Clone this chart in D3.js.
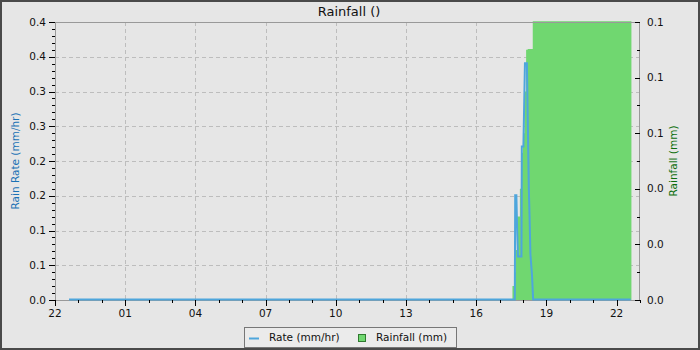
<!DOCTYPE html>
<html><head><meta charset="utf-8">
<script src="https://cdn.jsdelivr.net/npm/d3@7"></script>
<style>body{margin:0;background:#fff}svg{display:block;font-family:"DejaVu Sans",sans-serif}</style>
</head><body><svg id="c" width="700" height="350"></svg>
<script>
// ---- data ----
const chartTitle = "Rainfall ()";
const leftAxisTitle = "Rain Rate (mm/hr)";
const rightAxisTitle = "Rainfall (mm)";
const seriesNames = ["Rate (mm/hr)", "Rainfall (mm)"];
const xTickLabels = ["22","01","04","07","10","13","16","19","22"];
const leftTickValues = [0,0.05,0.10,0.15,0.20,0.25,0.30,0.35,0.40];
const leftTickLabels = ["0.0","0.1","0.1","0.2","0.2","0.3","0.3","0.4","0.4"];
const rightTickValues = [0,0.02,0.04,0.06,0.08,0.10];
const rightTickLabels = ["0.0","0.0","0.0","0.1","0.1","0.1"];
const xDomain = ["2024-01-01 22:00","2024-01-02 23:00"];

const rateTimes = ["2024-01-01 22:36","2024-01-02 17:39","2024-01-02 17:40","2024-01-02 17:43","2024-01-02 17:45","2024-01-02 17:47","2024-01-02 17:56","2024-01-02 17:57","2024-01-02 18:01","2024-01-02 18:05","2024-01-02 18:10","2024-01-02 18:15","2024-01-02 18:17","2024-01-02 18:19","2024-01-02 18:23","2024-01-02 18:26","2024-01-02 22:36"];
const rateValues = [0,0,0.15,0.15,0.10,0.062,0.062,0.22,0.22,0.34,0.34,0.158,0.115,0.065,0.036,0,0];

const rainTimes = ["2024-01-01 22:36","2024-01-02 17:33","2024-01-02 17:37","2024-01-02 17:41","2024-01-02 17:45","2024-01-02 17:52","2024-01-02 17:55","2024-01-02 18:00","2024-01-02 18:04","2024-01-02 18:08","2024-01-02 18:12","2024-01-02 18:25","2024-01-02 22:38"];
const rainValues = [0,0.005,0.010,0.018,0.030,0.040,0.053,0.060,0.075,0.090,0.0903,0.1003,0.1003];

// ---- drawing ----
const parse = d3.timeParse("%Y-%m-%d %H:%M");
const svg = d3.select("#c");
const L = 55, R = 640, T = 22, B = 300;
const x = d3.scaleTime().domain(xDomain.map(parse)).range([L, R]);
const yL = d3.scaleLinear().domain([0, 0.4]).range([B, T]);
const yR = d3.scaleLinear().domain([0, 0.1]).range([B, T]);

svg.append("rect").attr("x",1).attr("y",1).attr("width",698).attr("height",348)
  .attr("fill","#e6e6e6").attr("stroke","#4a4a4a").attr("stroke-width",2);

const start = x.domain()[0], end = x.domain()[1];
const majorX = xTickLabels.map((d,i)=> d3.timeHour.offset(start, i*3));
const minorX = d3.timeHour.range(start, d3.timeMinute.offset(end,1));

// grid
const grid = svg.append("g").attr("stroke","#bdbdbd").attr("stroke-dasharray","4,3").attr("stroke-width",1);
majorX.slice(1).forEach(t=>{
  grid.append("line").attr("x1",Math.round(x(t))+0.5).attr("x2",Math.round(x(t))+0.5).attr("y1",T).attr("y2",B);
});
leftTickValues.slice(1,-1).forEach(v=>{
  grid.append("line").attr("x1",L).attr("x2",R).attr("y1",Math.round(yL(v))+0.5).attr("y2",Math.round(yL(v))+0.5);
});

// rainfall area
const rain = rainTimes.map((t,i)=>({t:parse(t), v:rainValues[i]}));
svg.append("path").datum(rain)
  .attr("d", d3.area().curve(d3.curveStepAfter).x(d=>x(d.t)).y0(yR(0)).y1(d=>yR(d.v)))
  .attr("fill","#70d770");

// frame
svg.append("rect").attr("x",L+0.5).attr("y",T+0.5).attr("width",R-L-1).attr("height",B-T)
  .attr("fill","none").attr("stroke","#999").attr("stroke-width",1);

// rate line
const rate = rateTimes.map((t,i)=>({t:parse(t), v:rateValues[i]}));
svg.append("path").datum(rate)
  .attr("d", d3.line().x(d=>x(d.t)).y(d=>yL(d.v)-0.5))
  .attr("fill","none").attr("stroke","#4ea6dc").attr("stroke-width",2);

// left axis
const gl = svg.append("g");
d3.range(0, 41).forEach(i=>{
  const v = i/100, y0 = Math.round(yL(v))+0.5;
  gl.append("line").attr("x1",L-(i%5===0?6:3)).attr("x2",L).attr("y1",y0).attr("y2",y0).attr("stroke","#000");
});
leftTickValues.forEach((v,i)=>{
  gl.append("text").attr("x",46).attr("y",yL(v)).attr("dy","0.35em").attr("text-anchor","end")
    .attr("font-size",10.5).attr("fill","#111").text(leftTickLabels[i]);
});
// right axis
const gr = svg.append("g");
d3.range(0, 11).forEach(i=>{
  const v = i/100, y0 = Math.round(yR(v))+0.5;
  gr.append("line").attr("x1",R-(i%2===0?5:3)).attr("x2",R).attr("y1",y0).attr("y2",y0).attr("stroke","#000");
});
rightTickValues.forEach((v,i)=>{
  gr.append("text").attr("x",647).attr("y",yR(v)).attr("dy","0.35em").attr("text-anchor","start")
    .attr("font-size",10.5).attr("fill","#111").text(rightTickLabels[i]);
});
// x axis
const gx = svg.append("g");
minorX.forEach((t,i)=>{
  const xx = Math.round(x(t))+0.5;
  gx.append("line").attr("x1",xx).attr("x2",xx).attr("y1",B).attr("y2",B+(i%3===0?6:3)).attr("stroke","#000");
});
majorX.forEach((t,i)=>{
  gx.append("text").attr("x",x(t)).attr("y",313).attr("dy","0.35em").attr("text-anchor","middle")
    .attr("font-size",10.5).attr("fill","#111").text(xTickLabels[i]);
});

// titles
svg.append("text").attr("x",349).attr("y",11).attr("dy","0.35em").attr("text-anchor","middle")
  .attr("font-size",13).attr("fill","#111").text(chartTitle);
svg.append("text").attr("transform","translate(15,161) rotate(-90)").attr("dy","0.35em").attr("text-anchor","middle")
  .attr("font-size",10.5).attr("fill","#1a72b5").text(leftAxisTitle);
svg.append("text").attr("transform","translate(673,161) rotate(-90)").attr("dy","0.35em").attr("text-anchor","middle")
  .attr("font-size",10.5).attr("fill","#0b6e0b").text(rightAxisTitle);

// legend
const lg = svg.append("g");
lg.append("rect").attr("x",244.5).attr("y",327.5).attr("width",212).attr("height",20)
  .attr("fill","#ebebeb").attr("stroke","#777");
lg.append("line").attr("x1",249).attr("x2",259).attr("y1",338.5).attr("y2",338.5).attr("stroke","#4ea6dc").attr("stroke-width",2);
lg.append("text").attr("x",269).attr("y",337.5).attr("dy","0.35em").attr("font-size",10.5).attr("fill","#111").text(seriesNames[0]);
lg.append("rect").attr("x",358.5).attr("y",334.5).attr("width",7).attr("height",7).attr("fill","#70d770").attr("stroke","#2f7a2f");
lg.append("text").attr("x",376).attr("y",337.5).attr("dy","0.35em").attr("font-size",10.5).attr("fill","#111").text(seriesNames[1]);
</script></body></html>
